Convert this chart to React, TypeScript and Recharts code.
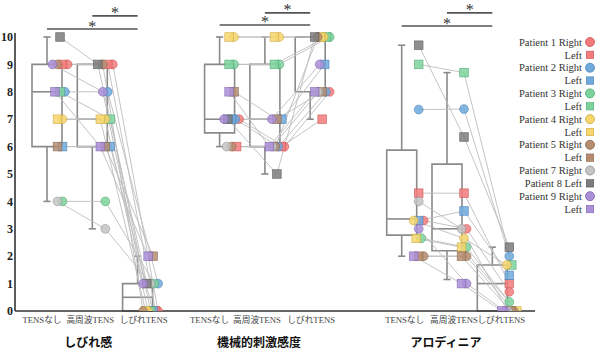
import { ComposedChart, Scatter, XAxis, YAxis, ReferenceArea, ReferenceLine } from "recharts";

const SERIF = '"Liberation Serif", "DejaVu Serif", "Noto Sans CJK JP", serif';
const SANS = '"Noto Sans CJK JP", "Noto Sans", sans-serif';

const GROUPS = ["しびれ感", "機械的刺激感度", "アロディニア"];
const CONDITIONS = ["TENSなし", "高周波TENS", "しびれTENS"];
const Y_TICKS = [0, 1, 2, 3, 4, 5, 6, 7, 8, 9, 10];

const PATIENTS = [
  "Patient 1 Right", "Left", "Patient 2 Right", "Left", "Patient 3 Right", "Left",
  "Patient 4 Right", "Left", "Patient 5 Right", "Left", "Patient 7 Right",
  "Patient 8 Left", "Patient 9 Right", "Left",
];
const PATIENT_SHAPES = ["c", "s", "c", "s", "c", "s", "c", "s", "c", "s", "c", "s", "c", "s"];
const PATIENT_FILL = [
  "#f47b7b", "#f47b7b", "#6fa9dd", "#6fa9dd", "#7dd39d", "#7dd39d", "#f7d66e",
  "#f7d66e", "#b58d70", "#b58d70", "#c4c4c4", "#7d7d7d", "#ab8fd8", "#ab8fd8",
];
const PATIENT_EDGE = [
  "#c95454", "#c95454", "#4a7fb5", "#4a7fb5", "#4fa673", "#4fa673", "#caa63a",
  "#caa63a", "#8a664b", "#8a664b", "#8f8f8f", "#555555", "#7d62ad", "#7d62ad",
];

// order: 1R 1L 2R 2L 3R 3L 4R 4L 5R 5L 7R 8L 9R 9L
const NUMB_NONE = [9, 9, 8, 6, 4, 8, 7, 7, 9, 6, 4, 10, 9, 8];
const NUMB_HF = [9, 9, 8, 6, 4, 7, 7, 7, 9, 6, 3, 9, 8, 6];
const NUMB_NT = [0, 0, 1, 0, 1, 0, 0, 0, 0, 2, 1, 1, 1, 2];
const MECH_NONE = [7, 6, 7, 7, 9, 9, 10, 10, 6, 8, 6, 7, 7, 8];
const MECH_HF = [6, 6, 6, 7, 9, 9, 10, 10, 6, 7, 6, 5, 7, 6];
const MECH_NT = [8, 7, 8, 9, 10, 10, 10, 10, 10, 8, 8, 10, 9, 8];
const ALLO_NONE = [3.3, 4.3, 7.35, 3.3, 2.65, 9.0, 3.3, 2.65, 2.0, 2.0, 4.0, 9.7, 3.0, 2.0];
const ALLO_HF = [3.0, 4.3, 7.37, 3.65, 2.33, 8.7, 2.65, 2.33, 2.0, 2.0, 3.0, 6.35, 1.0, 1.0];
const ALLO_NT = [0.7, 1.0, 2.0, 1.3, 0.33, 1.68, 1.68, 0, 0, 0, 0, 2.33, 0, 0];

// [min, q1, median, q3, max] per condition
const NUMB_BOX = [[4, 6, 8, 9, 10], [3, 6, 7, 9, 9], [0, 0, 0.5, 1, 2]];
const MECH_BOX = [[6, 6.5, 7, 9, 10], [5, 6, 7, 9, 10], [7, 8, 10, 10, 10]];
const ALLO_BOX = [[2.0, 2.77, 3.36, 5.87, 9.7], [1.15, 2.2, 3.0, 5.36, 8.7], [0, 0, 1.0, 1.68, 2.33]];

const GROUP_VALUES = [
  [NUMB_NONE, NUMB_HF, NUMB_NT],
  [MECH_NONE, MECH_HF, MECH_NT],
  [ALLO_NONE, ALLO_HF, ALLO_NT],
];
const GROUP_BOXES = [NUMB_BOX, MECH_BOX, ALLO_BOX];

// layout
const PX = 45.3;
const X_MIN = -32 / PX;
const X_MAX = X_MIN + 520 / PX;
const Y_MAX = 306 / 27.4;
const HALF = 15 / PX;
const CAP = 3.6 / PX;
const GROUP_X = [0, 3.81, 7.83];
const POINT_SHIFT = [13, 12, 17];
const LABEL_SHIFT = [-5, -2, 6, -10, -8, 1, 3, 7, 9];
const TITLE_SHIFT = [-4, -6, -1];
const SIG_LONG = [10.29, 10.44, 10.4];
const SIG_SHORT = [10.77, 10.88, 10.88];
const BOX_STROKE = "#8a8a8a";

const CAT_TICKS = GROUP_X.flatMap((gx) => CONDITIONS.map((_, c) => gx + c));
const CAT_LABELS = GROUPS.flatMap(() => CONDITIONS);

function pointX(g: number, c: number, i: number) {
  const vals = GROUP_VALUES[g][c];
  const same = vals.map((v, j) => (v === vals[i] ? j : -1)).filter((j) => j >= 0).reverse();
  const n = same.length;
  const k = same.indexOf(i);
  const step = n > 1 ? Math.min(5, 15 / (n - 1)) : 0;
  return GROUP_X[g] + c + (POINT_SHIFT[g] + (k - (n - 1) / 2) * step) / PX;
}

function Marker(props: any) {
  const { cx, cy, idx } = props;
  if (cx == null || cy == null) return <g />;
  const fill = PATIENT_FILL[idx];
  const edge = PATIENT_EDGE[idx];
  if (PATIENT_SHAPES[idx] === "c")
    return <circle cx={cx} cy={cy} r={4.4} fill={fill} fillOpacity={0.85} stroke={edge} strokeWidth={0.7} strokeOpacity={0.8} />;
  return <rect x={cx - 4.3} y={cy - 4.3} width={8.6} height={8.6} fill={fill} fillOpacity={0.85} stroke={edge} strokeWidth={0.7} strokeOpacity={0.8} />;
}

// condition label, plus the group title under the middle condition
function CatTick(props: any) {
  const { x, y, index } = props;
  const g = Math.floor(index / 3);
  return (
    <g>
      <text x={x + LABEL_SHIFT[index]} y={y} dy={6.5} textAnchor="middle" fontSize={8.7} fill="#444" fontFamily={SERIF}>
        {CAT_LABELS[index]}
      </text>
      {index % 3 === 1 && (
        <text x={x + TITLE_SHIFT[g]} y={y} dy={30.5} textAnchor="middle" fontSize={12} fontWeight="bold" fill="#111" fontFamily={SANS}>
          {GROUPS[g]}
        </text>
      )}
    </g>
  );
}

function boxElements() {
  const out: any[] = [];
  GROUP_BOXES.forEach((boxes, g) => {
    boxes.forEach(([mn, q1, md, q3, mx], c) => {
      const cx = GROUP_X[g] + c;
      const k = `b${g}${c}`;
      out.push(
        <ReferenceArea key={k + "a"} x1={cx - HALF} x2={cx + HALF} y1={q1} y2={q3} fill="none" stroke={BOX_STROKE} strokeWidth={1.6} />
      );
      out.push(
        <ReferenceLine key={k + "m"} segment={[{ x: cx - HALF, y: md }, { x: cx + HALF, y: md }]} stroke={BOX_STROKE} strokeWidth={1.6} />
      );
      if (mx > q3) {
        out.push(<ReferenceLine key={k + "u"} segment={[{ x: cx, y: q3 }, { x: cx, y: mx }]} stroke={BOX_STROKE} strokeWidth={1.6} />);
        out.push(<ReferenceLine key={k + "uc"} segment={[{ x: cx - CAP, y: mx }, { x: cx + CAP, y: mx }]} stroke={BOX_STROKE} strokeWidth={1.6} />);
      }
      if (mn < q1) {
        out.push(<ReferenceLine key={k + "l"} segment={[{ x: cx, y: q1 }, { x: cx, y: mn }]} stroke={BOX_STROKE} strokeWidth={1.6} />);
        out.push(<ReferenceLine key={k + "lc"} segment={[{ x: cx - CAP, y: mn }, { x: cx + CAP, y: mn }]} stroke={BOX_STROKE} strokeWidth={1.6} />);
      }
    });
  });
  return out;
}

function sigElements() {
  const star = { value: "*", position: "top" as const, offset: -2.5, fontSize: 16, fill: "#333", fontFamily: SERIF };
  return GROUP_X.flatMap((gx, g) => [
    <ReferenceLine key={`sl${g}`} segment={[{ x: gx, y: SIG_LONG[g] }, { x: gx + 2, y: SIG_LONG[g] }]} stroke="#555" strokeWidth={1.6} label={star} />,
    <ReferenceLine key={`ss${g}`} segment={[{ x: gx + 1, y: SIG_SHORT[g] }, { x: gx + 2, y: SIG_SHORT[g] }]} stroke="#555" strokeWidth={1.6} label={star} />,
  ]);
}

function Legend() {
  return (
    <svg width={600} height={352} style={{ position: "absolute", left: 0, top: 0, pointerEvents: "none" }}>
      {PATIENTS.map((name, i) => {
        const y = 42 + i * 12.85;
        return (
          <g key={i}>
            <text x={582} y={y} dy="0.35em" textAnchor="end" fontSize={10.5} fill="#333" fontFamily={SERIF}>
              {name}
            </text>
            {PATIENT_SHAPES[i] === "c" ? (
              <circle cx={590} cy={y} r={4.5} fill={PATIENT_FILL[i]} stroke={PATIENT_EDGE[i]} strokeWidth={0.8} />
            ) : (
              <rect x={586.3} y={y - 3.7} width={7.4} height={7.4} fill={PATIENT_FILL[i]} stroke={PATIENT_EDGE[i]} strokeWidth={0.6} />
            )}
          </g>
        );
      })}
    </svg>
  );
}

export default function App() {
  return (
    <div style={{ position: "absolute", left: 0, top: 0, width: 600, height: 352, background: "#fff" }}>
      <ComposedChart width={600} height={352} margin={{ top: 5, right: 65, bottom: 0, left: 0 }}>
        <XAxis
          type="number"
          dataKey="x"
          domain={[X_MIN, X_MAX]}
          allowDataOverflow
          ticks={CAT_TICKS}
          interval={0}
          tick={<CatTick />}
          tickLine={false}
          tickSize={0}
          tickMargin={5}
          height={41}
          axisLine={{ stroke: "#333", strokeWidth: 1.6 }}
        />
        <YAxis
          type="number"
          dataKey="y"
          domain={[0, Y_MAX]}
          allowDataOverflow
          ticks={Y_TICKS}
          interval={0}
          axisLine={false}
          tickLine={false}
          tickSize={0}
          tickMargin={2}
          width={15}
          tick={{ fontSize: 12, fontWeight: "bold", fill: "#222", fontFamily: SERIF }}
        />
        <ReferenceLine segment={[{ x: X_MIN, y: 0 }, { x: X_MIN, y: 10.15 }]} stroke="#333" strokeWidth={1.6} ifOverflow="visible" />
        {boxElements()}
        {GROUP_X.flatMap((_, g) =>
          PATIENTS.map((_, i) => (
            <Scatter
              key={`ln${g}-${i}`}
              data={[0, 1, 2].map((c) => ({ x: pointX(g, c, i), y: GROUP_VALUES[g][c][i] }))}
              fill="#bdbdbd"
              line={{ stroke: "#bdbdbd", strokeWidth: 0.9 }}
              shape={() => <g />}
              isAnimationActive={false}
              legendType="none"
            />
          ))
        )}
        {PATIENTS.map((_, i) => (
          <Scatter
            key={`pt${i}`}
            data={GROUP_X.flatMap((_, g) => [0, 1, 2].map((c) => ({ x: pointX(g, c, i), y: GROUP_VALUES[g][c][i] })))}
            fill={PATIENT_FILL[i]}
            shape={(p: any) => <Marker {...p} idx={i} />}
            isAnimationActive={false}
          />
        ))}
        {sigElements()}
      </ComposedChart>
      <Legend />
    </div>
  );
}
